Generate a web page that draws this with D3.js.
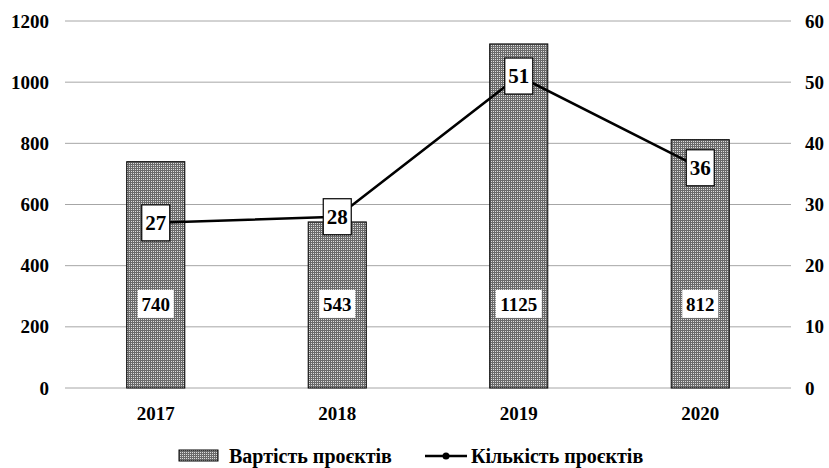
<!DOCTYPE html>
<html>
<head>
<meta charset="utf-8">
<script src="https://cdn.jsdelivr.net/npm/d3@7"></script>
<style>
  body { margin: 0; background: #fff; }
</style>
</head>
<body>
<svg id="viz" width="829" height="468"></svg>
<script>
// Data
const years    = ['2017', '2018', '2019', '2020'];
const cost     = [740, 543, 1125, 812];   // Вартість проєктів (left axis)
const count    = [27, 28, 51, 36];        // Кількість проєктів (right axis)
const leftTicks  = [0, 200, 400, 600, 800, 1000, 1200];
const rightTicks = [0, 10, 20, 30, 40, 50, 60];
const seriesNames = ['Вартість проєктів', 'Кількість проєктів'];

const FONT = '"Liberation Serif", "Times New Roman", serif';

const svg = d3.select('#viz')
  .attr('font-family', FONT)
  .attr('font-weight', 'bold');
const margin = { left: 65, right: 38, top: 21, bottom: 80 };
const width  = 829 - margin.left - margin.right;
const height = 468 - margin.top - margin.bottom;

// Dotted fill for bars
const defs = svg.append('defs');
const pat = defs.append('pattern')
  .attr('id', 'dots')
  .attr('patternUnits', 'userSpaceOnUse')
  .attr('width', 2).attr('height', 2);
pat.append('rect').attr('width', 2).attr('height', 2).attr('fill', '#6a6a6a');
pat.append('rect').attr('width', 1).attr('height', 1).attr('fill', '#dcdcdc');

const g = svg.append('g').attr('transform', `translate(${margin.left},${margin.top})`);

const x = d3.scaleBand().domain(years).range([0, width]).paddingInner(0.68).paddingOuter(0.34);
const yL = d3.scaleLinear().domain([0, 1200]).range([height, 0]);
const yR = d3.scaleLinear().domain([0, 60]).range([height, 0]);

// Gridlines
g.selectAll('.grid').data(leftTicks).join('line')
  .attr('x1', 0).attr('x2', width)
  .attr('y1', d => yL(d)).attr('y2', d => yL(d))
  .attr('stroke', '#a6a6a6').attr('stroke-width', 1);

function styleAxis(sel) {
  sel.select('.domain').remove();
  sel.attr('font-family', FONT).attr('font-weight', 'bold').attr('font-size', 19);
  sel.selectAll('text').attr('fill', '#000');
}

// Left axis
g.append('g')
  .call(d3.axisLeft(yL).tickValues(leftTicks).tickFormat(d3.format('d')).tickSize(0).tickPadding(16))
  .call(styleAxis);

// Right axis
g.append('g').attr('transform', `translate(${width},0)`)
  .call(d3.axisRight(yR).tickValues(rightTicks).tickFormat(d3.format('d')).tickSize(0).tickPadding(14))
  .call(styleAxis);

// Bottom axis
g.append('g').attr('transform', `translate(0,${height})`)
  .call(d3.axisBottom(x).tickSize(0).tickPadding(19))
  .call(styleAxis);

// Bars
g.selectAll('.bar').data(cost).join('rect')
  .attr('x', (d, i) => x(years[i]))
  .attr('y', d => yL(d))
  .attr('width', x.bandwidth())
  .attr('height', d => height - yL(d))
  .attr('fill', 'url(#dots)')
  .attr('stroke', '#000').attr('stroke-width', 1);

// Bar value labels
const barLbl = g.selectAll('.blbl').data(cost).join('g')
  .attr('transform', (d, i) => `translate(${x(years[i]) + x.bandwidth() / 2},${yL(275)})`);
barLbl.append('rect')
  .attr('x', d => -(String(d).length * 5 + 3))
  .attr('y', -14)
  .attr('width', d => String(d).length * 10 + 6)
  .attr('height', 28).attr('fill', '#fff');
barLbl.append('text').attr('text-anchor', 'middle').attr('dy', '0.35em')
  .attr('font-size', 19).text(d => d);

// Line
const cx = (d, i) => x(years[i]) + x.bandwidth() / 2;
g.append('path')
  .datum(count)
  .attr('fill', 'none').attr('stroke', '#000').attr('stroke-width', 2.5)
  .attr('d', d3.line().x(cx).y(d => yR(d)));

// Line value labels
const lineLbl = g.selectAll('.llbl').data(count).join('g')
  .attr('transform', (d, i) => `translate(${cx(d, i)},${yR(d)})`);
lineLbl.append('rect').attr('x', -14).attr('y', -18).attr('width', 28).attr('height', 36)
  .attr('fill', '#fff').attr('stroke', '#000').attr('stroke-width', 1.2);
lineLbl.append('text').attr('text-anchor', 'middle').attr('dy', '0.35em')
  .attr('font-size', 21).text(d => d);

// Legend
const leg = svg.append('g').attr('transform', 'translate(0,456)');
leg.append('rect').attr('x', 179).attr('y', -6).attr('width', 39).attr('height', 11)
  .attr('fill', 'url(#dots)').attr('stroke', '#000').attr('stroke-width', 1);
leg.append('text').attr('x', 229).attr('dy', '0.35em').attr('font-size', 20).text(seriesNames[0]);
leg.append('line').attr('x1', 425).attr('x2', 467).attr('y1', 0).attr('y2', 0)
  .attr('stroke', '#000').attr('stroke-width', 2.5);
leg.append('circle').attr('cx', 446).attr('cy', 0).attr('r', 3.5).attr('fill', '#000');
leg.append('text').attr('x', 471).attr('dy', '0.35em').attr('font-size', 20).text(seriesNames[1]);
</script>
</body>
</html>
